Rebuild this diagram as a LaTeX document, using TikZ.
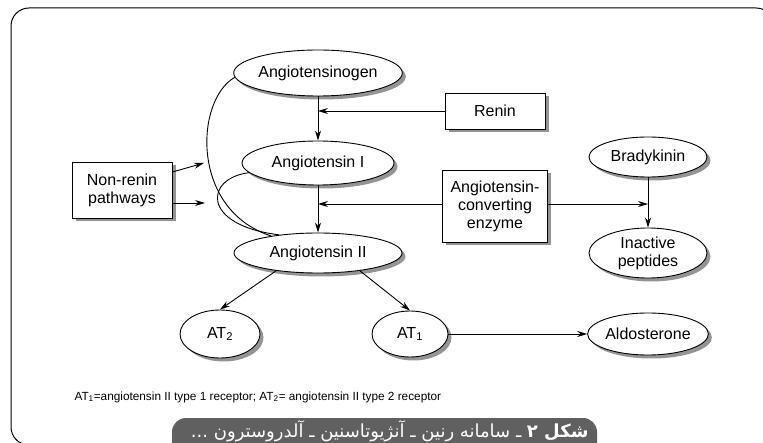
\documentclass[tikz,border=0pt]{standalone}
\usepackage{fontspec}
\setmainfont{Liberation Sans}
\newfontfamily\farsi[Script=Arabic]{DejaVu Sans}
\TeXXeTstate=1
\usetikzlibrary{shapes.geometric,arrows.meta,shadows}
\definecolor{tabgray}{HTML}{606060}
\begin{document}
\begin{tikzpicture}[x=1pt,y=-1pt,
  every node/.style={font=\fontsize{16}{18}\selectfont, align=center},
  shad/.style={drop shadow={shadow xshift=3.5pt,shadow yshift=-3.5pt,fill=black!60,opacity=0.7}},
  ell/.style={ellipse,draw,line width=0.9pt,fill=white,inner sep=0pt,shad},
  box/.style={rectangle,draw,line width=0.9pt,fill=white,inner sep=0pt,shad},
  ln/.style={line width=0.9pt},
  arr/.style={ln,-{Stealth[length=10pt,width=6pt]}}]
\useasboundingbox (0,0) rectangle (763,443);
\begin{scope}
  \clip (0,0) rectangle (763,443);
  \draw[line width=1pt,rounded corners=18pt] (11,8) rectangle (774,445);
  \fill[tabgray,rounded corners=14pt] (172,470) rectangle (597,418);
\end{scope}
\node[anchor=east,text=white,font=\farsi\fontsize{18}{20}\selectfont] (cap) at (592,431)
  {\beginR\textbf{شکل ۲} ـ سامانه رنین ـ آنژیوتاسنین ـ آلدروسترون ...\endR};

% nodes
\node[ell,minimum width=150,minimum height=46] (ago) at (318,73) {Angiotensinogen};
\node[ell,minimum width=152,minimum height=44] (ang1) at (318,163) {Angiotensin I};
\node[ell,minimum width=168,minimum height=40] (ang2) at (318,253) {Angiotensin II};
\node[box,minimum width=100,minimum height=36] (renin) at (495,111) {Renin};
\node[box,minimum width=100,minimum height=56] (nonrenin) at (122,190) {Non-renin\\pathways};
\node[box,minimum width=105,minimum height=72] (ace) at (495,206) {Angiotensin-\\converting\\enzyme};
\node[ell,minimum width=118,minimum height=40] (brady) at (648,157) {Bradykinin};
\node[ell,minimum width=118,minimum height=50] (inact) at (648,253) {Inactive\\peptides};
\node[ell,minimum width=80,minimum height=48] (at2) at (220,334) {AT\textsubscript{2}};
\node[ell,minimum width=76,minimum height=46] (at1) at (410,334) {AT\textsubscript{1}};
\node[ell,minimum width=120,minimum height=42] (aldo) at (648,334) {Aldosterone};

\node[anchor=west,font=\fontsize{11.8}{13}\selectfont] (foot) at (71,397)
  {AT\textsubscript{1}=angiotensin II type 1 receptor; AT\textsubscript{2}= angiotensin II type 2 receptor};

% junctions
\coordinate (j1) at (318,111);
\coordinate (j2) at (318,204);
\coordinate (j3) at (648,204);
\coordinate (n1) at (204,163);
\coordinate (n2) at (205,203);

% connectors
\draw[arr] (ago) -- (ang1);
\draw[arr] (renin.west) -- (j1);
\draw[arr] (ang1) -- (ang2);
\draw[arr] (ace.west |- j2) -- (j2);
\draw[arr] (ace.east |- j3) -- (j3);
\draw[arr] (brady) -- (inact);
\draw[arr] ([yshift=18pt]nonrenin.east) -- (n1);
\draw[arr] ([yshift=-13pt]nonrenin.east) -- (n2);
\draw[ln] (ago.183) .. controls (195,100) and (190,210) .. (ang2.160);
\draw[ln] (ang1.188) .. controls (205,178) and (200,225) .. (ang2.155);
\draw[arr] (ang2.203) -- (at2.north);
\draw[arr] (ang2.-23) -- (at1.north);
\draw[arr] (at1) -- (aldo);
\end{tikzpicture}
\end{document}
